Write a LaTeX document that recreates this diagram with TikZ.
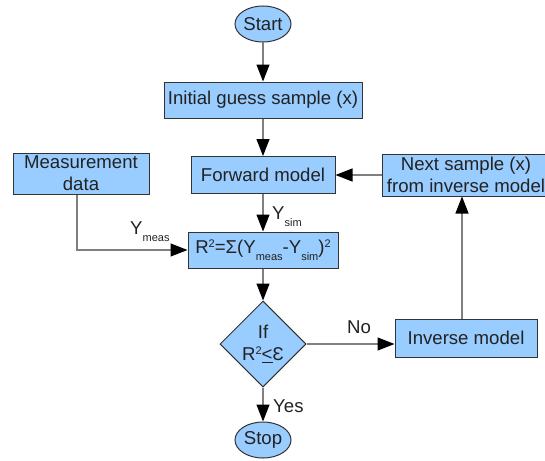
\documentclass[tikz,border=0pt]{standalone}
\usepackage{fontspec}
\setmainfont{Liberation Sans}
\usetikzlibrary{arrows.meta,shapes.geometric}
\definecolor{boxfill}{HTML}{99CCFF}
\definecolor{boxline}{HTML}{333333}
\definecolor{linegray}{HTML}{808080}
\definecolor{txt}{HTML}{222222}
\newcommand\subt[1]{\raisebox{-7pt}{\fontsize{11}{11}\selectfont #1}}
\newcommand\supt[1]{\raisebox{6pt}{\fontsize{11}{11}\selectfont #1}}
\begin{document}
\begin{tikzpicture}[x=1pt,y=-1pt,
 every node/.style={font=\fontsize{18.6}{22}\selectfont, text=txt},
 proc/.style={draw=boxline, fill=boxfill, line width=1pt, rectangle, inner sep=1pt, align=center},
 term/.style={draw=boxline, fill=boxfill, line width=1pt, ellipse, inner sep=0pt, minimum width=56pt, minimum height=36pt},
 dec/.style={draw=boxline, fill=boxfill, line width=1pt, diamond, inner sep=0pt, minimum width=86pt, minimum height=86pt},
 conn/.style={draw=linegray, line width=1.2pt, -{Triangle[length=17pt,width=13pt,color=black]}},
 lab/.style={inner sep=0pt, anchor=base west}]
\useasboundingbox (0,0) rectangle (545,460);
\node[term] (start) at (263,24) {Start};
\node[proc, minimum width=198pt, minimum height=36pt] (init) at (263,100) {Initial guess sample (x)};
\node[proc, minimum width=144pt, minimum height=37pt] (fwd) at (263,175) {Forward model};
\node[proc, minimum width=168pt, minimum height=42pt] (next) at (466,175) {Next sample (x)\\from inverse model};
\node[proc, minimum width=136pt, minimum height=41pt] (meas) at (81,173.5) {Measurement\\data};
\node[proc, minimum width=150pt, minimum height=36pt] (r2) at (263,250) {R\supt{2}=Σ(Y\subt{meas}-Y\subt{sim})\supt{2}};
\node[dec] (dec) at (263,344) {};
\node[align=center, inner sep=0pt] (dectext) at (dec.center) {If\\R\supt{2}\underline{<}Ɛ};
\node[proc, minimum width=142pt, minimum height=38pt] (inv) at (466,338) {Inverse model};
\node[term] (stop) at (263,440) {Stop};

\draw[conn] (start) -- (init);
\draw[conn] (init) -- (fwd);
\draw[conn] (next) -- (fwd);
\draw[conn] (fwd) -- (r2);
\draw[conn] ([xshift=-4pt]meas.south) |- (r2.west);
\draw[conn] (r2) -- (dec);
\draw[conn] (dec.east) -- (dec.east -| inv.west);
\draw[conn] ([xshift=-4pt]inv.north) -- ([xshift=-4pt]inv.north |- next.south);
\draw[conn] (dec) -- (stop);

\node[lab] (ysim) at (272,219) {Y\subt{sim}};
\node[lab] (ymeas) at (130,234) {Y\subt{meas}};
\node[lab] (no) at (347,333) {No};
\node[lab] (yes) at (273,412) {Yes};
\end{tikzpicture}
\end{document}
